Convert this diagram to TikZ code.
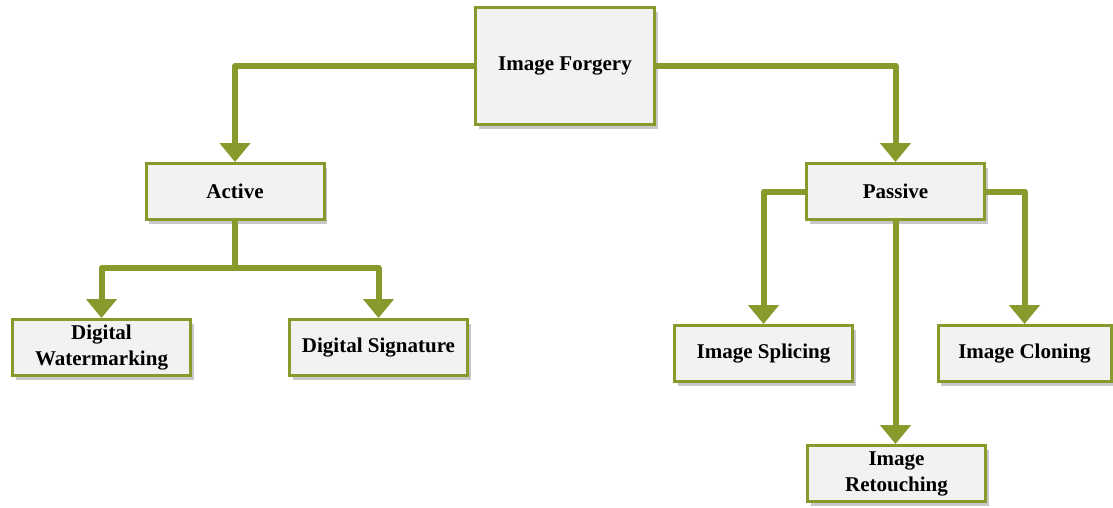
\documentclass[tikz,border=0pt]{standalone}
\usepackage{fontspec}
\setmainfont{Liberation Serif}
\usetikzlibrary{arrows.meta,shadows}
\definecolor{leaf}{RGB}{134,155,44}
\definecolor{boxfill}{RGB}{242,242,242}
\begin{document}
\begin{tikzpicture}[x=1pt,y=-1pt,
  box/.style={draw=leaf, line width=3pt, fill=boxfill, align=center,
    font=\fontsize{21}{26}\selectfont\bfseries, inner sep=2pt,
    minimum width=178pt, minimum height=56pt,
    drop shadow={shadow xshift=3pt, shadow yshift=-4pt, fill=black, opacity=0.22}},
  link/.style={draw=leaf, line width=6pt, line cap=round, line join=round},
  arr/.style={link, -{Triangle[width=30pt,length=19pt]}}]
\useasboundingbox (0,0) rectangle (1113,507);
\node[box, minimum width=179pt, minimum height=117pt] (forg) at (565,66) {Image Forgery};
\node[box] (act) at (235,191.5) {Active};
\node[box] (pas) at (895.5,191.5) {Passive};
\node[box] (wm) at (101.5,347.5) {Digital\\Watermarking};
\node[box] (sig) at (378.5,347.5) {Digital Signature};
\node[box] (spl) at (763.5,353.5) {Image Splicing};
\node[box, minimum width=173pt] (clo) at (1024.5,353.5) {Image Cloning};
\node[box] (ret) at (896.5,473.5) {Image\\Retouching};
\coordinate (aj) at (235,268);
\draw[arr] (forg.west) -| (act.north);
\draw[arr] (forg.east) -| (pas.north);
\draw[link] (act.south) -- (aj);
\draw[arr] (aj) -| (wm.north);
\draw[arr] (aj) -| (sig.north);
\draw[arr] (pas.west) -| (spl.north);
\draw[arr] (pas.east) -| (clo.north);
\draw[arr] (pas.south) -- (pas.south |- ret.north);
\end{tikzpicture}
\end{document}
